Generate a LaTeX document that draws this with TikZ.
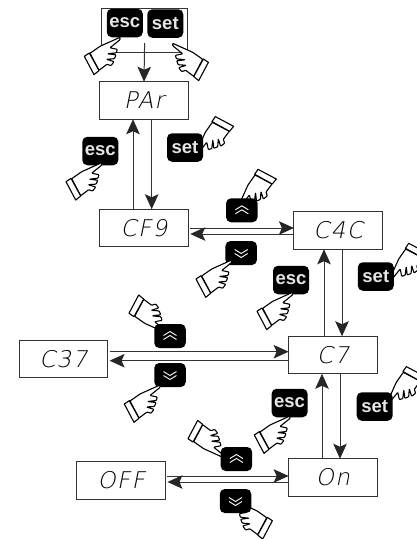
\documentclass[tikz,border=0pt]{standalone}
\usepackage{fontspec}
\setmainfont{Liberation Sans}
\newfontfamily\segfont[FakeSlant=0.2,LetterSpace=6]{DejaVu Sans ExtraLight}
\usetikzlibrary{arrows.meta}
\tikzset{
  disp/.style={draw=black!80,line width=1pt,fill=white,minimum width=88.5pt,minimum height=37.5pt,outer sep=0pt,inner sep=0pt,font=\segfont\fontsize{23}{23}\selectfont,text=black},
  btn/.style={fill=black,rounded corners=5pt,minimum width=36pt,minimum height=28.5pt,inner sep=0pt,text=white!90!black,font=\bfseries\fontsize{18.5}{18.5}\selectfont},
  chev/.style={fill=black,rounded corners=5pt,minimum width=31.5pt,minimum height=24pt,inner sep=0pt},
  link/.style={draw=black!80,line width=1pt,-{Stealth[length=15pt,width=13.5pt,inset=3pt,color=black!85]}},
  frm/.style={draw=black!80,line width=1pt,minimum width=86pt,minimum height=43.5pt,outer sep=0pt,inner sep=0pt},
  hand/.pic={
    \draw[fill=white,line width=1.1pt,line join=round,rounded corners=.7pt] (0,0)--(-20,9)--(-30,16)--(-21,33)--(-13,27)--(-9,28.3)--(-6,24.3)--(-13.5,22)--(-5.5,21.4)--(-4,17.5)--(-12.5,16.5)--(-3.7,15.5)--(-2.7,12)--(-10,10.5)--(0,2.4)--cycle;
    \draw[fill=white,line width=1.1pt,line join=round] (-30.7,15.7)--(-35.7,19)--(-26,37.3)--(-21,33.3)--cycle;
  },
  chevup/.pic={
    \draw[white,line width=.9pt] (-6.5,-.5)--(0,-4.5)--(6.5,-.5);
    \draw[white,line width=.9pt] (-6.5,3.5)--(0,-.5)--(6.5,3.5);
  },
  chevdown/.pic={
    \draw[white,line width=.9pt] (-6.5,-3.5)--(0,.5)--(6.5,-3.5);
    \draw[white,line width=.9pt] (-6.5,.5)--(0,4.5)--(6.5,.5);
  }
}
\begin{document}
\begin{tikzpicture}[x=1pt,y=-1pt]
\useasboundingbox (0,0) rectangle (417,539);
\node[frm] (frame) at (144.6,30.4) {};
% displays
\node[disp] (par) at (144,100.5) {PAr};
\node[disp] (cf9) at (144,228) {CF9};
\node[disp] (c4c) at (338.2,230.5) {C4C};
\node[disp] (c7)  at (332.9,355) {C7};
\node[disp] (on)  at (332.9,477.5) {On};
\node[disp] (c37) at (63.3,358.9) {C37};
\node[disp] (off) at (121.2,480.4) {OFF};
% hands behind buttons
\pic[rotate=90,xscale=-1] at (239,205) {hand};
\pic[rotate=90,xscale=-1] at (196.3,152.3) {hand};
\pic[rotate=90,xscale=-1] at (389.7,279) {hand};
\pic[rotate=90,xscale=-1] at (387.3,402.3) {hand};
\pic[yscale=-1] at (164.7,332.3) {hand};
\pic[yscale=-1] at (223.7,457.7) {hand};
\pic[xscale=-1] at (236.7,501.7) {hand};
% buttons
\node[btn] (esca) at (124.8,23) {esc};
\node[btn] (seta) at (165.3,23.5) {set};
\node[btn] (escb) at (100.3,151) {esc};
\node[btn] (setb) at (185,147.5) {set};
\node[btn] (escc) at (291,280) {esc};
\node[btn] (setc) at (375.8,276.5) {set};
\node[btn] (escd) at (289.6,403) {esc};
\node[btn] (setd) at (374.7,406.5) {set};
\node[chev] (upa) at (241.8,210.3) {};
\node[chev] (dna) at (241.2,253) {};
\node[chev] (upb) at (170,336) {};
\node[chev] (dnb) at (170,375) {};
\node[chev] (upc) at (236.4,459) {};
\node[chev] (dnc) at (235.5,501) {};
\pic at (upa) {chevup};
\pic at (upb) {chevup};
\pic at (upc) {chevup};
\pic at (dna) {chevdown};
\pic at (dnb) {chevdown};
\pic at (dnc) {chevdown};
% hands in front of buttons
\pic at (120,37.3) {hand};
\pic[xscale=-1] at (172.7,43.3) {hand};
\pic at (101.7,162.7) {hand};
\pic at (231.7,260) {hand};
\pic at (292.7,292.3) {hand};
\pic at (160,385) {hand};
\pic at (290,416) {hand};
% connectors
\draw[link] ([yshift=9pt]frame.south) -- (par.north);
\draw[link] ([xshift=-11pt]cf9.north) -- ([xshift=-11pt]par.south);
\draw[link] ([xshift=7.7pt]par.south) -- ([xshift=7.7pt]cf9.north);
\draw[link] ([xshift=2pt]cf9.east) -- ([yshift=2.5pt]c4c.west);
\draw[link] ([yshift=-3.5pt]c4c.west) -- ([xshift=2pt,yshift=-6pt]cf9.east);
\draw[link] ([xshift=-8.9pt]c7.north) -- ([xshift=-14.2pt]c4c.south);
\draw[link] ([xshift=3.8pt]c4c.south) -- ([xshift=9.1pt]c7.north);
\draw[link] ([xshift=2pt,yshift=7.2pt]c37.east) -- ([yshift=3.3pt]c7.west);
\draw[link] ([yshift=-5.7pt]c7.west) -- ([xshift=2pt,yshift=-1.8pt]c37.east);
\draw[link] ([xshift=-10.9pt]on.north) -- ([xshift=-10.9pt]c7.south);
\draw[link] ([xshift=7.1pt]c7.south) -- ([xshift=7.1pt]on.north);
\draw[link] ([xshift=2pt,yshift=4.4pt]off.east) -- ([yshift=1.5pt]on.west);
\draw[link] ([yshift=-4.5pt]on.west) -- ([xshift=2pt,yshift=-1.6pt]off.east);
\end{tikzpicture}
\end{document}
